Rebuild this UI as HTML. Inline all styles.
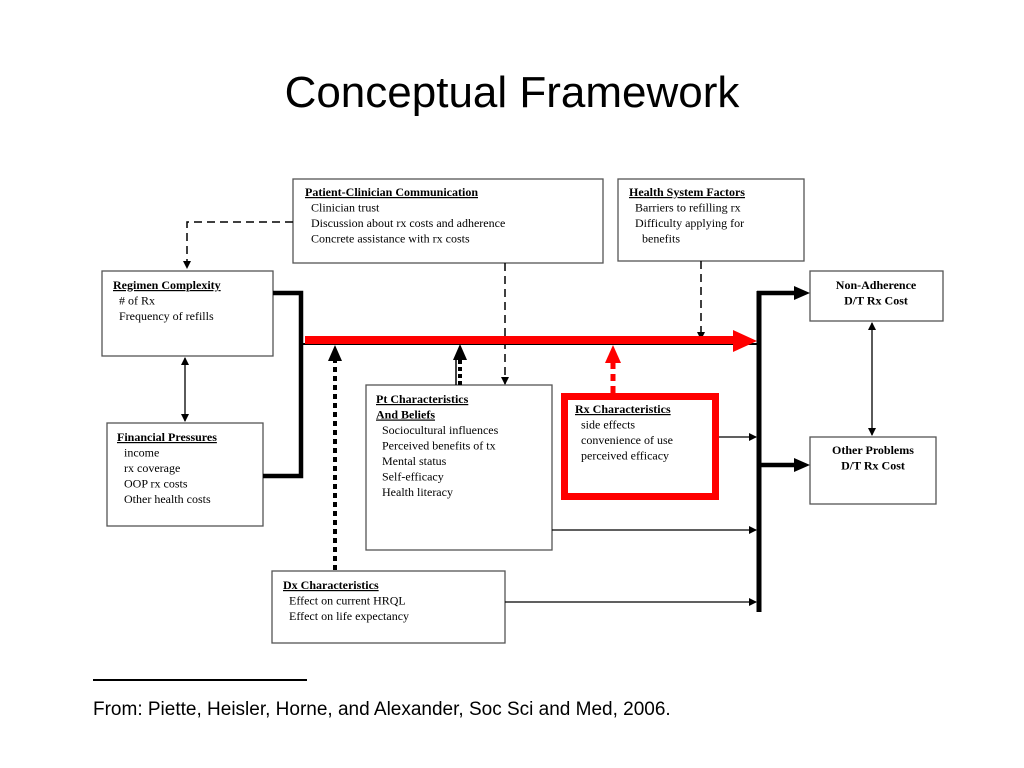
<!DOCTYPE html>
<html><head><meta charset="utf-8"><style>
html,body{margin:0;padding:0;background:#fff;}
svg{display:block}
.t{font-family:"Liberation Serif",serif;font-size:12px;fill:#000}
.b{font-weight:bold}
</style></head><body>
<svg width="1024" height="768" viewBox="0 0 1024 768" xmlns="http://www.w3.org/2000/svg">
<defs>
<marker id="a" markerWidth="8" markerHeight="8" refX="7" refY="4" orient="auto" markerUnits="userSpaceOnUse"><path d="M0,0 L8,4 L0,8 z" fill="#000"/></marker>
<marker id="a2" markerWidth="8" markerHeight="8" refX="1" refY="4" orient="auto" markerUnits="userSpaceOnUse"><path d="M8,0 L0,4 L8,8 z" fill="#000"/></marker>
</defs>
<text x="512" y="107" text-anchor="middle" font-family="Liberation Sans, sans-serif" font-size="44">Conceptual Framework</text>

<g fill="#fff" stroke="#555" stroke-width="1.3">
<rect x="293" y="179" width="310" height="84"/>
<rect x="618" y="179" width="186" height="82"/>
<rect x="102" y="271" width="171" height="85"/>
<rect x="107" y="423" width="156" height="103"/>
<rect x="366" y="385" width="186" height="165"/>
<rect x="272" y="571" width="233" height="72"/>
<rect x="810" y="271" width="133" height="50"/>
<rect x="810" y="437" width="126" height="67"/>
</g>
<rect x="564.5" y="396.5" width="151" height="100" fill="#fff" stroke="#f00" stroke-width="7"/>

<!-- dashed connectors -->
<g stroke="#000" stroke-width="1.5" fill="none" stroke-dasharray="8,5">
<path d="M293,222 H187 V268" marker-end="url(#a)"/>
<path d="M505,263 V384" marker-end="url(#a)"/>
<path d="M701,261 V339" marker-end="url(#a)"/>
</g>
<!-- regimen/financial thick bracket -->
<path d="M273,293 H301 V476 H263" stroke="#000" stroke-width="4.5" fill="none"/>
<!-- black line under red -->
<line x1="303" y1="344" x2="757" y2="344" stroke="#000" stroke-width="2"/>
<line x1="305" y1="340" x2="735" y2="340" stroke="#f00" stroke-width="8"/>
<path d="M733,330 L757,341 L733,352 z" fill="#f00"/>
<!-- dotted up arrows -->
<line x1="335" y1="570" x2="335" y2="360" stroke="#000" stroke-width="4" stroke-dasharray="5,4"/>
<path d="M328,361 L335,345 L342,361 z" fill="#000"/>
<line x1="456" y1="385" x2="456" y2="358" stroke="#000" stroke-width="1.5"/>
<line x1="460" y1="385" x2="460" y2="360" stroke="#000" stroke-width="4" stroke-dasharray="4,3"/>
<path d="M453,360 L460,344 L467,360 z" fill="#000"/>
<!-- red dashed up arrow -->
<line x1="613" y1="393" x2="613" y2="362" stroke="#f00" stroke-width="5" stroke-dasharray="7,5"/>
<path d="M605,363 L613,345 L621,363 z" fill="#f00"/>
<!-- double arrows -->
<line x1="185" y1="358" x2="185" y2="421" stroke="#000" stroke-width="1.3" marker-start="url(#a2)" marker-end="url(#a)"/>
<line x1="872" y1="323" x2="872" y2="435" stroke="#000" stroke-width="1.3" marker-start="url(#a2)" marker-end="url(#a)"/>
<!-- big vertical -->
<line x1="759" y1="291" x2="759" y2="612" stroke="#000" stroke-width="5"/>
<line x1="757" y1="293" x2="795" y2="293" stroke="#000" stroke-width="4.5"/>
<path d="M794,286 L810,293 L794,300 z" fill="#000"/>
<line x1="757" y1="465" x2="795" y2="465" stroke="#000" stroke-width="4.5"/>
<path d="M794,458 L810,465 L794,472 z" fill="#000"/>
<g stroke="#000" stroke-width="1.3">
<line x1="719" y1="437" x2="756" y2="437" marker-end="url(#a)"/>
<line x1="552" y1="530" x2="756" y2="530" marker-end="url(#a)"/>
<line x1="505" y1="602" x2="756" y2="602" marker-end="url(#a)"/>
</g>

<!-- texts -->
<text class="t" x="305" y="196"><tspan class="b" text-decoration="underline">Patient-Clinician Communication</tspan><tspan x="311" dy="15.5">Clinician trust</tspan><tspan x="311" dy="15.5">Discussion about rx costs and adherence</tspan><tspan x="311" dy="15.5">Concrete assistance with rx costs</tspan></text>
<text class="t" x="629" y="196"><tspan class="b" text-decoration="underline">Health System Factors</tspan><tspan x="635" dy="15.5">Barriers to refilling rx</tspan><tspan x="635" dy="15.5">Difficulty applying for</tspan><tspan x="642" dy="15.5">benefits</tspan></text>
<text class="t" x="113" y="289"><tspan class="b" text-decoration="underline">Regimen Complexity</tspan><tspan x="119" dy="15.5"># of Rx</tspan><tspan x="119" dy="15.5">Frequency of refills</tspan></text>
<text class="t" x="117" y="441"><tspan class="b" text-decoration="underline">Financial Pressures</tspan><tspan x="124" dy="15.5">income</tspan><tspan x="124" dy="15.5">rx coverage</tspan><tspan x="124" dy="15.5">OOP rx costs</tspan><tspan x="124" dy="15.5">Other health costs</tspan></text>
<text class="t" x="376" y="403"><tspan class="b" text-decoration="underline">Pt Characteristics</tspan><tspan class="b" text-decoration="underline" x="376" dy="15.5">And Beliefs</tspan><tspan x="382" dy="15.5">Sociocultural influences</tspan><tspan x="382" dy="15.5">Perceived benefits of tx</tspan><tspan x="382" dy="15.5">Mental status</tspan><tspan x="382" dy="15.5">Self-efficacy</tspan><tspan x="382" dy="15.5">Health literacy</tspan></text>
<text class="t" x="575" y="413"><tspan class="b" text-decoration="underline">Rx Characteristics</tspan><tspan x="581" dy="15.5">side effects</tspan><tspan x="581" dy="15.5">convenience of use</tspan><tspan x="581" dy="15.5">perceived efficacy</tspan></text>
<text class="t" x="283" y="589"><tspan class="b" text-decoration="underline">Dx Characteristics</tspan><tspan x="289" dy="15.5">Effect on current HRQL</tspan><tspan x="289" dy="15.5">Effect on life expectancy</tspan></text>
<text class="t b" x="876" y="289" text-anchor="middle">Non-Adherence<tspan x="876" dy="15.5">D/T Rx Cost</tspan></text>
<text class="t b" x="873" y="454" text-anchor="middle">Other Problems<tspan x="873" dy="15.5">D/T Rx Cost</tspan></text>

<line x1="93" y1="680" x2="307" y2="680" stroke="#000" stroke-width="2"/>
<text x="93" y="715" font-family="Liberation Sans, sans-serif" font-size="19">From: Piette, Heisler, Horne, and Alexander, Soc Sci and Med, 2006.</text>
</svg>
</body></html>
